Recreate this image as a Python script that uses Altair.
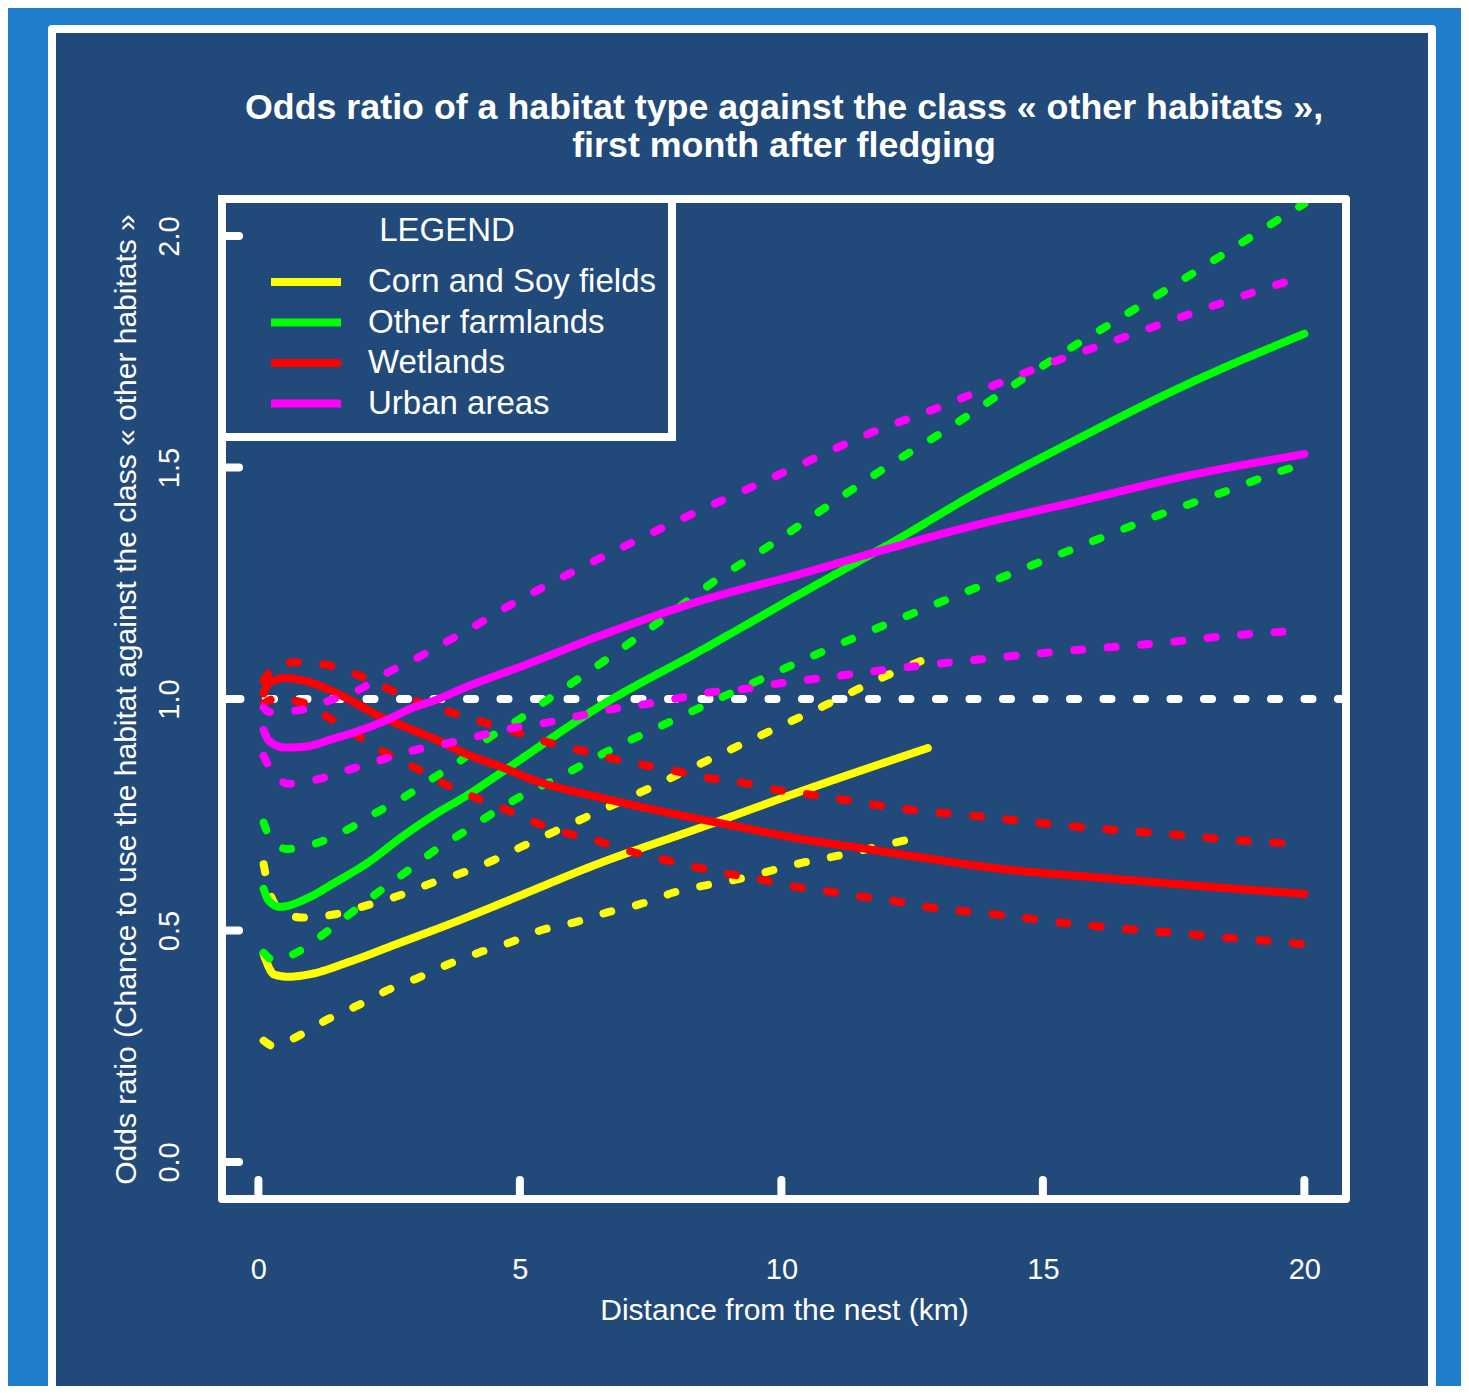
import altair as alt
import pandas as pd

# ---------------- data ----------------
habitats = ["Corn and Soy fields", "Other farmlands", "Wetlands", "Urban areas"]
colors = ["#FFFF00", "#00FF00", "#FF0000", "#FF00FF"]
bands = ["fit", "upper", "lower"]

x_ticks = [0, 5, 10, 15, 20]
y_ticks = [0.0, 0.5, 1.0, 1.5, 2.0]
ref_level = [1.0]

corn_fit_x = [0.1, 0.3, 0.57, 0.96, 1.78, 2.72, 3.82, 4.63, 6.54, 8.45, 10.36, 12.8]
corn_fit_y = [0.449, 0.405, 0.400, 0.405, 0.434, 0.474, 0.521, 0.558, 0.646, 0.722, 0.800, 0.894]
corn_up_x = [0.1, 0.25, 0.5, 0.82, 1.47, 2.04, 2.68, 3.25, 3.86, 4.46, 5.07, 6.25, 7.43, 8.58, 9.73, 10.81, 11.96, 12.8]
corn_up_y = [0.643, 0.571, 0.538, 0.528, 0.535, 0.553, 0.575, 0.600, 0.623, 0.650, 0.683, 0.744, 0.805, 0.867, 0.928, 0.985, 1.048, 1.088]
corn_lo_x = [0.1, 0.3, 0.76, 1.34, 1.88, 2.45, 3.06, 3.63, 4.21, 4.81, 5.39, 6.03, 6.67, 7.3, 7.94, 9.18, 10.43, 11.06, 12.34, 12.8]
corn_lo_y = [0.262, 0.250, 0.272, 0.309, 0.337, 0.370, 0.398, 0.427, 0.452, 0.474, 0.500, 0.517, 0.539, 0.557, 0.582, 0.611, 0.647, 0.661, 0.694, 0.705]

farm_fit_x = [0.1, 0.2, 0.41, 0.96, 1.47, 2.1, 2.73, 3.38, 4.02, 4.63, 6.54, 8.45, 10.36, 12.27, 13.8, 15.72, 17.63, 20]
farm_fit_y = [0.590, 0.564, 0.551, 0.571, 0.604, 0.647, 0.701, 0.751, 0.794, 0.840, 0.985, 1.104, 1.227, 1.348, 1.450, 1.565, 1.673, 1.789]
farm_up_x = [0.1, 0.2, 0.54, 1.15, 1.75, 2.23, 2.8, 3.35, 3.82, 4.33, 4.97, 5.55, 6.57, 7.69, 8.74, 9.82, 10.9, 12.05, 13.17, 14.28, 15.4, 16.55, 17.66, 18.71, 19.78, 20]
farm_up_y = [0.733, 0.705, 0.676, 0.690, 0.721, 0.753, 0.789, 0.830, 0.863, 0.910, 0.955, 1.000, 1.079, 1.169, 1.256, 1.335, 1.418, 1.504, 1.583, 1.666, 1.749, 1.828, 1.905, 1.979, 2.055, 2.070]
farm_lo_x = [0.1, 0.3, 0.67, 1.28, 1.82, 2.33, 2.9, 3.45, 3.96, 4.5, 5.1, 5.68, 6.76, 7.91, 9.06, 10.24, 11.35, 12.56, 13.74, 14.86, 16.07, 17.28, 18.43, 19.57, 20]
farm_lo_y = [0.452, 0.435, 0.449, 0.495, 0.542, 0.586, 0.633, 0.679, 0.715, 0.755, 0.795, 0.827, 0.892, 0.953, 1.014, 1.075, 1.130, 1.187, 1.241, 1.292, 1.346, 1.400, 1.446, 1.493, 1.508]

wet_fit_x = [0.1, 0.2, 0.51, 0.89, 1.34, 1.78, 2.29, 2.8, 3.38, 4.0, 4.65, 5.26, 6.54, 7.81, 9.09, 10.36, 11.64, 12.66, 14.19, 16.1, 18.01, 20]
wet_fit_y = [1.012, 1.035, 1.045, 1.039, 1.021, 0.996, 0.964, 0.940, 0.913, 0.880, 0.853, 0.825, 0.787, 0.755, 0.726, 0.698, 0.676, 0.658, 0.633, 0.614, 0.596, 0.579]
wet_up_x = [0.1, 0.3, 0.64, 1.24, 1.85, 2.42, 2.99, 3.57, 4.21, 4.8, 5.42, 6.06, 6.67, 7.3, 7.94, 8.58, 9.22, 9.85, 10.46, 11.1, 11.7, 12.37, 13.65, 14.89, 16.16, 17.44, 18.68, 20]
wet_up_y = [1.040, 1.068, 1.079, 1.075, 1.054, 1.025, 0.996, 0.975, 0.953, 0.933, 0.910, 0.892, 0.874, 0.859, 0.845, 0.830, 0.820, 0.805, 0.795, 0.784, 0.773, 0.762, 0.748, 0.733, 0.719, 0.708, 0.695, 0.687]
wet_lo_x = [0.1, 0.3, 0.86, 1.34, 1.91, 2.42, 2.99, 3.57, 4.15, 4.72, 5.3, 5.87, 6.47, 7.08, 7.72, 8.36, 8.96, 9.57, 10.17, 10.81, 11.41, 12.05, 12.66, 13.29, 13.9, 14.54, 15.18, 15.78, 16.42, 17.06, 17.69, 18.33, 18.94, 20]
wet_lo_y = [0.990, 1.000, 0.992, 0.960, 0.920, 0.884, 0.852, 0.816, 0.787, 0.762, 0.733, 0.711, 0.694, 0.672, 0.654, 0.637, 0.623, 0.611, 0.596, 0.586, 0.575, 0.566, 0.553, 0.544, 0.537, 0.529, 0.519, 0.512, 0.505, 0.499, 0.493, 0.486, 0.481, 0.470]

urb_fit_x = [0.1, 0.2, 0.51, 0.89, 1.4, 1.91, 2.42, 2.93, 3.44, 3.95, 4.46, 4.97, 6.54, 8.45, 10.36, 11.89, 13.8, 15.72, 17.63, 20]
urb_fit_y = [0.933, 0.910, 0.895, 0.897, 0.913, 0.931, 0.953, 0.980, 1.000, 1.025, 1.047, 1.068, 1.137, 1.212, 1.270, 1.320, 1.378, 1.428, 1.479, 1.529]
urb_up_x = [0.1, 0.2, 0.73, 1.34, 1.94, 2.42, 2.99, 3.57, 4.14, 4.63, 5.74, 6.89, 8.07, 9.28, 10.46, 11.67, 12.85, 13.96, 15.1, 16.29, 17.44, 18.59, 19.8, 20]
urb_up_y = [0.982, 0.972, 0.975, 0.996, 1.021, 1.054, 1.086, 1.122, 1.158, 1.191, 1.259, 1.324, 1.388, 1.450, 1.511, 1.573, 1.623, 1.673, 1.724, 1.771, 1.817, 1.862, 1.905, 1.910]
urb_lo_x = [0.1, 0.2, 0.57, 1.15, 1.78, 2.39, 3.0, 3.64, 4.24, 4.85, 5.51, 6.16, 6.76, 7.4, 8.04, 8.61, 9.25, 9.85, 10.46, 11.1, 11.7, 12.34, 13.58, 14.79, 16.07, 17.34, 18.59, 19.86, 20]
urb_lo_y = [0.877, 0.855, 0.817, 0.827, 0.849, 0.870, 0.890, 0.905, 0.921, 0.937, 0.949, 0.964, 0.978, 0.989, 1.002, 1.014, 1.021, 1.032, 1.041, 1.050, 1.059, 1.068, 1.083, 1.097, 1.110, 1.122, 1.137, 1.147, 1.148]

series = [
    (habitats[0], "fit", corn_fit_x, corn_fit_y),
    (habitats[0], "upper", corn_up_x, corn_up_y),
    (habitats[0], "lower", corn_lo_x, corn_lo_y),
    (habitats[1], "fit", farm_fit_x, farm_fit_y),
    (habitats[1], "upper", farm_up_x, farm_up_y),
    (habitats[1], "lower", farm_lo_x, farm_lo_y),
    (habitats[2], "fit", wet_fit_x, wet_fit_y),
    (habitats[2], "upper", wet_up_x, wet_up_y),
    (habitats[2], "lower", wet_lo_x, wet_lo_y),
    (habitats[3], "fit", urb_fit_x, urb_fit_y),
    (habitats[3], "upper", urb_up_x, urb_up_y),
    (habitats[3], "lower", urb_lo_x, urb_lo_y),
]
rows = []
for h, b, xs, ys in series:
    for x, y in zip(xs, ys):
        rows.append({"habitat": h, "band": b, "x": x, "y": y})
df = pd.DataFrame(rows)

# ---------------- styling ----------------
NAVY = "#21497A"
OUTER = "#1E7DCC"
FONT = "Liberation Sans"
W, H = 1124, 1000

x_scale = alt.Scale(domain=[-0.696, 20.796], nice=False, zero=False)
y_scale = alt.Scale(domain=[-0.08, 2.08], nice=False, zero=False)

x_axis = alt.Axis(values=x_ticks, format="d", title="Distance from the nest (km)",
                  domain=False, ticks=False, tickSize=0, grid=False, zindex=1,
                  labelPadding=79, labelBaseline="alphabetic", labelFontSize=29,
                  labelColor="white", labelFlush=False, labelOverlap=False,
                  titleFontSize=30, titleColor="white", titleFontWeight="normal",
                  titleX=562, titleY=120, titleBaseline="alphabetic", titleAlign="center")
y_axis = alt.Axis(values=y_ticks, format=".1f",
                  title="Odds ratio (Chance to use the habitat against the class « other habitats »",
                  domain=False, ticks=False, tickSize=0, grid=False, zindex=1,
                  labelAngle=270, labelAlign="center", labelBaseline="alphabetic",
                  labelPadding=44, labelFontSize=29, labelColor="white",
                  labelFlush=False, labelOverlap=False,
                  titleFontSize=30, titleColor="white", titleFontWeight="normal",
                  titleAngle=270, titleX=-87, titleY=500, titleBaseline="alphabetic",
                  titleAlign="center")

legend = alt.Legend(orient="none", legendX=0, legendY=0, title="LEGEND",
                    titleFontSize=33, titleFontWeight="normal", titleColor="white",
                    titleAnchor="middle", titlePadding=17.5,
                    labelFontSize=33, labelColor="white", labelLimit=600, labelOffset=23,
                    symbolType="stroke", symbolStrokeWidth=8, symbolSize=4900,
                    symbolOffset=29, clipHeight=33, rowPadding=6.5, padding=16,
                    strokeColor="white", direction="vertical")

one = pd.DataFrame({"k": [0]})

panel = alt.Chart(one).mark_rect(fill=NAVY, stroke="white", strokeWidth=8,
                                 strokeJoin="round").encode(
    x=alt.value(-170), x2=alt.value(1210), y=alt.value(-170), y2=alt.value(1300))

refline = alt.Chart(pd.DataFrame({"y": ref_level})).mark_rule(
    color="white", strokeWidth=8, strokeCap="round", strokeDash=[8, 25.5]).encode(
    y=alt.Y("y:Q", scale=y_scale, axis=y_axis))

curves = alt.Chart(df).mark_line(strokeWidth=8, strokeCap="round", strokeJoin="round",
                                 interpolate="monotone").encode(
    x=alt.X("x:Q", scale=x_scale, axis=x_axis),
    y=alt.Y("y:Q", scale=y_scale, axis=y_axis),
    color=alt.Color("habitat:N", scale=alt.Scale(domain=habitats, range=colors), legend=legend),
    strokeDash=alt.StrokeDash("band:N", scale=alt.Scale(domain=bands, range=[[1, 0], [8, 25.5], [8, 25.5]]),
                              legend=None),
)

xticks = alt.Chart(pd.DataFrame({"x": x_ticks})).mark_rule(
    color="white", strokeWidth=8, strokeCap="round").encode(
    x=alt.X("x:Q", scale=x_scale, axis=x_axis), y=alt.value(H), y2=alt.value(H - 19))

yticks = alt.Chart(pd.DataFrame({"y": y_ticks})).mark_rule(
    color="white", strokeWidth=8, strokeCap="round").encode(
    y=alt.Y("y:Q", scale=y_scale, axis=y_axis), x=alt.value(0), x2=alt.value(17))

box = alt.Chart(one).mark_rect(fillOpacity=0, stroke="white", strokeWidth=8,
                               strokeJoin="round").encode(
    x=alt.value(0), x2=alt.value(W), y=alt.value(0), y2=alt.value(H))

title = alt.TitleParams(
    text=["Odds ratio of a habitat type against the class « other habitats »,",
          "first month after fledging"],
    fontSize=35.8, fontWeight="bold", color="white", anchor="middle", frame="group",
    lineHeight=38, font=FONT, dy=144)

chart = alt.layer(panel, refline, curves, xticks, yticks, box).properties(
    width=W, height=H, title=title,
    padding={"left": 214, "top": 191, "right": 115, "bottom": 187},
    autosize=alt.AutoSizeParams(type="none"),
).configure(background=OUTER, font=FONT).configure_view(strokeWidth=0).configure_legend(strokeWidth=8)

chart.save("out.html", embed_options={"renderer": "svg", "actions": False})
